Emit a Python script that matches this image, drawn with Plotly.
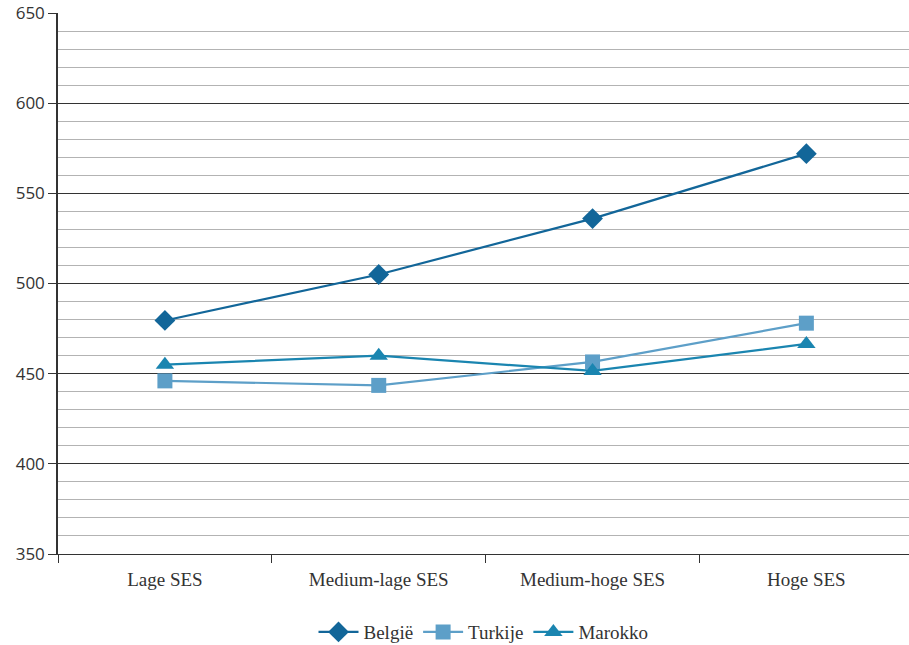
import plotly.graph_objects as go

categories = ["Lage SES", "Medium-lage SES", "Medium-hoge SES", "Hoge SES"]
belgie = [479.5, 505, 536, 572]
turkije = [446, 443.5, 456.5, 478]
marokko = [455, 460, 451.5, 466.5]
y_ticks = [350, 400, 450, 500, 550, 600, 650]

series = [
    ("België", belgie, "#126699", "diamond", 16),
    ("Turkije", turkije, "#5d9fc8", "square", 15),
    ("Marokko", marokko, "#1a85b0", "triangle-up", 16),
]

fig = go.Figure()
for name, vals, color, sym, size in series:
    fig.add_trace(go.Scatter(
        x=categories, y=vals, name=name, mode="lines+markers",
        line=dict(color=color, width=2.2),
        marker=dict(symbol=sym, size=size, color=color),
    ))

fig.update_layout(
    width=909, height=645,
    margin=dict(l=58, r=0, t=13, b=91, autoexpand=False),
    paper_bgcolor="white", plot_bgcolor="white",
    showlegend=True,
    legend=dict(orientation="h", x=0.5, xanchor="center", yref="container",
                y=0.02, yanchor="middle",
                font=dict(family="Liberation Serif", size=19, color="#333333"),
                itemwidth=40, tracegroupgap=0),
    xaxis=dict(
        type="category", tickson="boundaries", ticks="outside", ticklen=8,
        tickcolor="#333333", showgrid=False, showline=True, linecolor="#333333",
        linewidth=1, range=[-0.5, 3.48], automargin=False, ticklabelstandoff=8,
        tickfont=dict(family="Liberation Serif", size=19, color="#333333"),
    ),
    yaxis=dict(
        range=[350, 650], tickvals=y_ticks, ticks="outside", ticklen=8,
        tickcolor="#333333", showgrid=True, gridcolor="#333333", gridwidth=1,
        showline=True, linecolor="#333333", linewidth=1.5, zeroline=False,
        automargin=False,
        tickfont=dict(family="Open Sans", size=17, color="#333333"),
        minor=dict(dtick=10, showgrid=True, gridcolor="#b3b3b3", gridwidth=1.3, ticks=""),
    ),
)

fig.write_html("out.html", config={"displayModeBar": False},
               post_script="document.body.style.margin='0';")
